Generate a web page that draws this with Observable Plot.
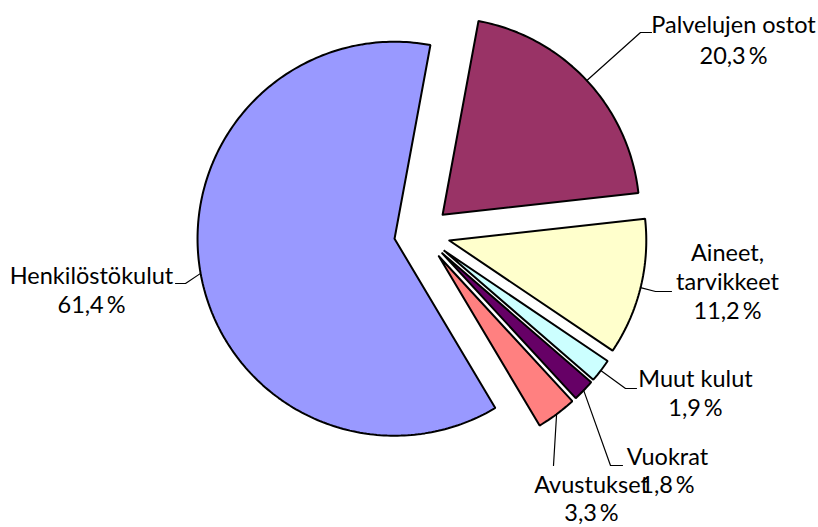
<!DOCTYPE html>
<html>
<head>
<meta charset="utf-8">
<script src="https://cdn.jsdelivr.net/npm/d3@7"></script>
<script src="https://cdn.jsdelivr.net/npm/@observablehq/plot@0.6"></script>
<style>
  html, body { margin: 0; padding: 0; background: #fff; }
  #chart svg { display: block; }
</style>
</head>
<body>
<div id="chart"></div>
<script>
// ---- Data ----
const categories = ["Palvelujen ostot", "Aineet, tarvikkeet", "Muut kulut", "Vuokrat", "Avustukset", "Henkilöstökulut"];
const labelNames = ["Palvelujen ostot", "Aineet,\ntarvikkeet", "Muut kulut", "Vuokrat", "Avustukset", "Henkilöstökulut"];
const values = [20.3, 11.2, 1.9, 1.8, 3.3, 61.4];
const colors = ["#993366", "#FFFFCC", "#CCFFFF", "#660066", "#FF8080", "#9999FF"];

// ---- Layout ----
const W = 818, H = 527;
const cx = 421.6, cy = 233.3, R = 197, explode = 28, startDeg = 10.5;
const fontSize = 23.5;
// label centre x, cap-top y, line height; leader elbow and end points
const labelLayout = {
  "Palvelujen ostot":   {x: 733, y: 10,  lh: 1.34, leader: [[640, 32], [651, 32]]},
  "Aineet, tarvikkeet": {x: 727, y: 240, lh: 1.24, leader: [[655, 291], [671, 291]]},
  "Muut kulut":         {x: 695, y: 366, lh: 1.24, leader: [[625, 388], [636, 388]]},
  "Vuokrat":            {x: 667, y: 444, lh: 1.2,  leader: [[610, 465], [622, 465]]},
  "Avustukset":         {x: 591, y: 472, lh: 1.2,  leader: [[553, 465]]},
  "Henkilöstökulut":    {x: 91,  y: 263, lh: 1.22, leader: [[185, 283], [175, 283]]}
};

const rad = d => d * Math.PI / 180;
const total = d3.sum(values);
let acc = startDeg;
const slices = values.map((v, i) => {
  const a0 = acc, a1 = acc + v / total * 360;
  acc = a1;
  const mid = (a0 + a1) / 2;
  const ox = cx + explode * Math.sin(rad(mid));
  const oy = cy - explode * Math.cos(rad(mid));
  const pts = [{x: ox, y: oy}];
  const n = Math.max(2, Math.ceil(a1 - a0));
  for (let k = 0; k <= n; ++k) {
    const a = a0 + (a1 - a0) * k / n;
    pts.push({x: ox + R * Math.sin(rad(a)), y: oy - R * Math.cos(rad(a))});
  }
  pts.push({x: ox, y: oy});
  const anchor = {x: ox + R * Math.sin(rad(mid)), y: oy - R * Math.cos(rad(mid))};
  return {name: categories[i], value: v, color: colors[i], pts, anchor, label: labelNames[i]};
});

const fmt = v => v.toFixed(1).replace(".", ",") + "\u2009%";

const leaders = slices.map(s => [s.anchor, ...labelLayout[s.name].leader.map(([x, y]) => ({x, y}))]);

const marks = [
  ...slices.map(s => Plot.line(s.pts, {
    x: "x", y: "y", fill: s.color, stroke: "black", strokeWidth: 2,
    strokeLinejoin: "miter", curve: "linear"
  })),
  ...leaders.map(l => Plot.line(l, {x: "x", y: "y", stroke: "black", strokeWidth: 1.2, curve: "linear"})),
  ...slices.map(s => {
    const L = labelLayout[s.name];
    return Plot.text([{x: L.x, y: L.y, text: s.label + "\n" + fmt(s.value)}], {
      x: "x", y: "y", text: "text", fontSize, fontFamily: "Lato",
      lineAnchor: "top", lineHeight: L.lh, textAnchor: "middle", fill: "#000"
    });
  })
];

const chart = Plot.plot({
  width: W, height: H,
  marginTop: 0, marginRight: 0, marginBottom: 0, marginLeft: 0,
  x: {domain: [0, W], range: [0, W], axis: null},
  y: {domain: [0, H], range: [0, H], axis: null},
  style: {background: "white", overflow: "visible"},
  marks
});
document.getElementById("chart").appendChild(chart);
</script>
</body>
</html>
